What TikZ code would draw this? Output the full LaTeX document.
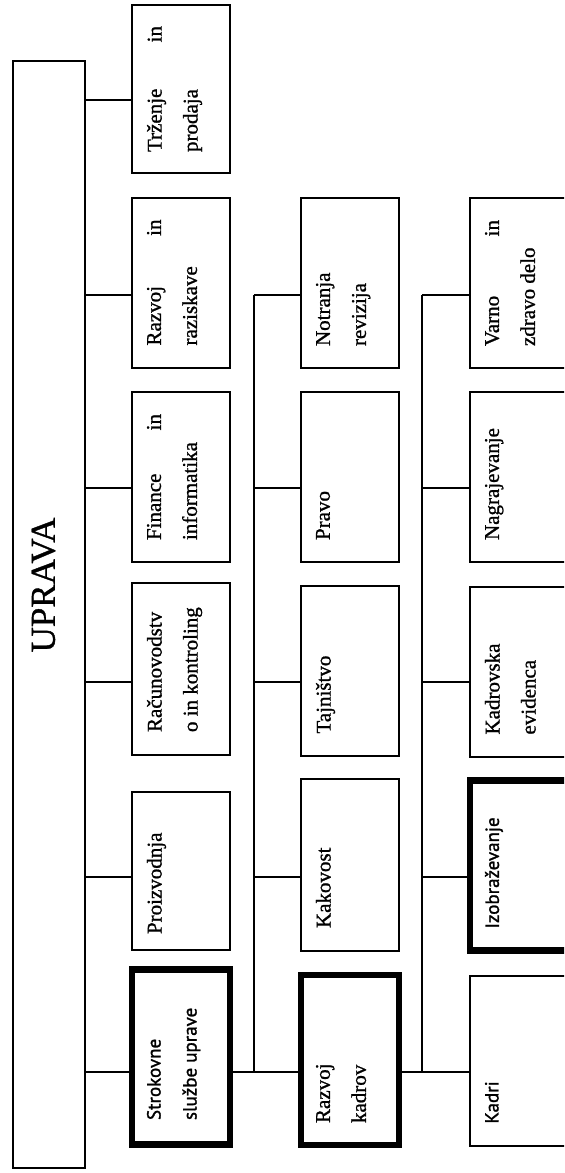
\documentclass[tikz,border=0pt]{standalone}
\usepackage{fontspec}
\setmainfont{Liberation Serif}[FakeBold=1]
\newfontfamily\humsans{PT Sans}[FakeBold=1.3]
\usepackage{graphicx}
\usepackage{tikz}
\newcommand{\vtext}[1]{\rotatebox{90}{\parbox[c][34pt][t]{63pt}{\raggedright #1}}}
\tikzset{
  unit/.style    ={draw, line width=1pt, minimum width=49pt, minimum height=85pt, inner sep=0pt,
                   font=\fontsize{10.5}{18}\selectfont},
  keyunit/.style ={unit, line width=3.3pt},
  sanslbl/.style ={font=\humsans\fontsize{9.5}{18}\selectfont},
  link/.style    ={line width=1pt},
}
\begin{document}
\begin{tikzpicture}[x=0.5pt,y=-0.5pt]
\useasboundingbox (0,0) rectangle (564,1173);
\clip (0,0) rectangle (564,1173);
\fill[white] (0,0) rectangle (564,1173);

% ---- top management
\node[draw, line width=1pt, minimum width=36pt, minimum height=553.5pt] (uprava) at (49,614.5) {};
\node[rotate=90, font=\fontsize{17.5}{20}\selectfont] (upravalbl) at (43.5,585) {UPRAVA};

% ---- first level
\node[unit, minimum height=84pt] (trz) at (181,89) {\vtext{Trženje\hfill in\\prodaja}};
\node[unit] (rr) at (181,282.5) {\vtext{Razvoj\hfill in\\raziskave}};
\node[unit] (fin) at (181,477) {\vtext{Finance\hfill in\\informatika}};
\node[unit, minimum height=86pt] (rac) at (181,669) {\vtext{Računovodstv\\o in kontroling}};
\node[unit, minimum height=79pt] (pro) at (181,871) {\vtext{Proizvodnja}};
\node[keyunit, sanslbl, minimum height=87.5pt] (stro) at (181,1057) {\vtext{Strokovne\\službe uprave}};

% ---- strokovne sluzbe
\node[unit] (notr) at (350,283) {\vtext{Notranja\\revizija}};
\node[unit] (pravo) at (350,477) {\vtext{Pravo}};
\node[unit] (taj) at (350,670.5) {\vtext{Tajništvo}};
\node[unit, minimum height=86pt] (kak) at (350,865) {\vtext{Kakovost}};
\node[keyunit] (rk) at (350,1060) {\vtext{Razvoj\\kadrov}};

% ---- razvoj kadrov
\node[unit] (varno) at (519,283) {\vtext{Varno\hfill in\\zdravo delo}};
\node[unit] (nag) at (519,477) {\vtext{Nagrajevanje}};
\node[unit] (kev) at (519,671.5) {\vtext{Kadrovska\\evidenca}};
\node[keyunit, sanslbl] (izo) at (519,865.5) {\vtext{Izobraževanje}};
\node[unit, sanslbl] (kadri) at (519,1060.5) {\vtext{Kadri}};

% ---- connectors
\foreach \n/\y in {trz/100, rr/295, fin/488, rac/682, pro/877, stro/1072}
  \draw[link] (uprava.east |- 0,\y) -- (\n.west |- 0,\y);

\coordinate (bus2) at (254,0);
\coordinate (bus3) at (422,0);
\draw[link] (bus2 |- 0,295) -- (bus2 |- 0,1072);
\foreach \n/\y in {notr/295, pravo/488, taj/682, kak/877}
  \draw[link] (bus2 |- 0,\y) -- (\n.west |- 0,\y);
\draw[link] (stro.east |- 0,1072) -- (rk.west |- 0,1072);

\draw[link] (bus3 |- 0,295) -- (bus3 |- 0,1072);
\foreach \n/\y in {varno/295, nag/488, kev/682, izo/877}
  \draw[link] (bus3 |- 0,\y) -- (\n.west |- 0,\y);
\draw[link] (rk.east |- 0,1072) -- (kadri.west |- 0,1072);
\end{tikzpicture}
\end{document}
